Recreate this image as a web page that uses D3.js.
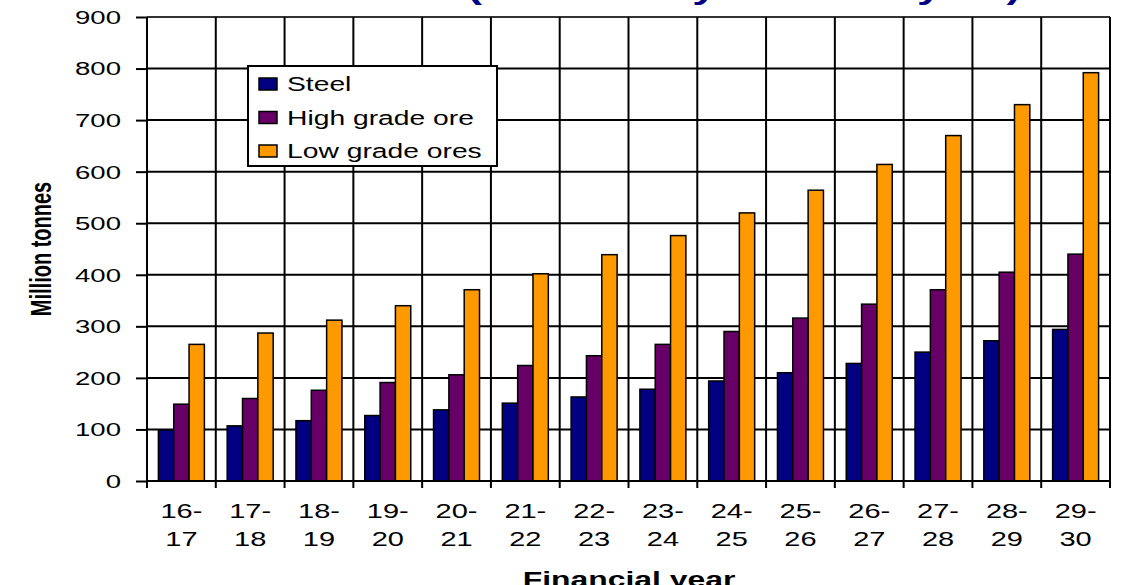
<!DOCTYPE html>
<html>
<head>
<meta charset="utf-8">
<script src="https://cdn.jsdelivr.net/npm/d3@7"></script>
<style>
  body { margin: 0; background: #fff; }
  svg { display: block; }
  text { font-family: "Liberation Sans", Arial, sans-serif; }
</style>
</head>
<body>
<div id="chart"></div>
<script>
// Chart data
var years = ["16-17", "17-18", "18-19", "19-20", "20-21", "21-22", "22-23",
             "23-24", "24-25", "25-26", "26-27", "27-28", "28-29", "29-30"]
var seriesNames = ["Steel", "High grade ore", "Low grade ores"]
var steel = [99, 107, 117, 127, 138, 151, 163, 178, 194, 210, 228, 250, 272, 294]
var highGrade = [149, 160, 176, 191, 206, 224, 243, 265, 290, 316, 343, 371, 405, 440]
var lowGrade = [265, 287, 312, 340, 371, 402, 439, 476, 520, 564, 614, 670, 730, 792]
var yTicks = [0, 100, 200, 300, 400, 500, 600, 700, 800, 900]
var colors = ["#000080", "#660066", "#ff9900"]

var svgWidth = 1123, svgHeight = 585
var margin = { top: 17, right: 13, bottom: 104, left: 147 }
var chartWidth = svgWidth - margin.left - margin.right,
    chartHeight = svgHeight - margin.top - margin.bottom
var sx = 1.45 // the picture is stretched sideways, so text is too

var svg = d3.select("#chart").append("svg")
    .attr("width", svgWidth).attr("height", svgHeight)

var chartGroup = svg.append("g").attr("transform", `translate(${margin.left}, ${margin.top})`)

var xScale = d3.scaleBand().domain(years).range([0, chartWidth])
var bw = xScale.bandwidth()
var groupW = 46
var xInner = d3.scaleBand().domain(seriesNames).range([(bw - groupW) / 2, (bw + groupW) / 2])
var yScale = d3.scaleLinear().domain([0, 900]).range([chartHeight, 0])

var rows = years.map(function(y, i) {
    return { year: y, values: [steel[i], highGrade[i], lowGrade[i]] }
})

// horizontal grid lines
chartGroup.append("g")
    .selectAll("line")
    .data(yTicks.slice(1))
    .enter()
    .append("line")
        .attr("x1", 0).attr("x2", chartWidth)
        .attr("y1", function(d) { return yScale(d) })
        .attr("y2", function(d) { return yScale(d) })
        .attr("stroke", function(d) { return d == 900 ? "#333" : "#000" })
        .attr("stroke-width", 2)

// vertical grid lines between categories
chartGroup.append("g")
    .selectAll("line")
    .data(years.slice(1).concat(["end"]))
    .enter()
    .append("line")
        .attr("x1", function(d, i) { return i < years.length - 1 ? xScale(d) : chartWidth })
        .attr("x2", function(d, i) { return i < years.length - 1 ? xScale(d) : chartWidth })
        .attr("y1", 0).attr("y2", chartHeight)
        .attr("stroke", "#000")
        .attr("stroke-width", 2)

// bars
chartGroup.append("g")
    .selectAll("g")
    .data(rows)
    .enter()
    .append("g")
        .attr("transform", function(d) { return `translate(${xScale(d.year)}, 0)` })
    .selectAll("rect")
    .data(function(d) { return d.values.map(function(v, j) { return { name: seriesNames[j], value: v, j: j } }) })
    .enter()
    .append("rect")
        .attr("x", function(d) { return xInner(d.name) })
        .attr("width", xInner.bandwidth())
        .attr("y", function(d) { return yScale(d.value) })
        .attr("height", function(d) { return chartHeight - yScale(d.value) })
        .attr("fill", function(d) { return colors[d.j] })
        .attr("stroke", "#000")
        .attr("stroke-width", 1.5)

// y axis
var yAxis = chartGroup.append("g")
    .call(d3.axisLeft(yScale).tickValues(yTicks).tickSize(11).tickFormat(""))
yAxis.select(".domain").attr("stroke-width", 2).attr("d", `M0,0V${chartHeight}`)
yAxis.selectAll(".tick line").attr("stroke-width", 2)

chartGroup.append("g")
    .selectAll("text")
    .data(yTicks)
    .enter()
    .append("text")
        .attr("transform", function(d) { return `translate(-26, ${yScale(d)}) scale(${sx}, 1)` })
        .attr("dy", "0.36em")
        .attr("text-anchor", "end")
        .attr("font-size", 19)
        .attr("fill", "#000")
        .text(function(d) { return d })

// x axis
var xAxisG = chartGroup.append("g").attr("transform", `translate(0, ${chartHeight})`)
xAxisG.append("line")
    .attr("x1", 0).attr("x2", chartWidth)
    .attr("stroke", "#000").attr("stroke-width", 2)
xAxisG.selectAll(".xt")
    .data(years.concat(["end"]))
    .enter()
    .append("line")
        .attr("class", "xt")
        .attr("x1", function(d, i) { return i < years.length ? xScale(d) : chartWidth })
        .attr("x2", function(d, i) { return i < years.length ? xScale(d) : chartWidth })
        .attr("y1", 0).attr("y2", 7)
        .attr("stroke", "#000").attr("stroke-width", 2)

var xLabels = xAxisG.selectAll(".xl")
    .data(years)
    .enter()
    .append("text")
        .attr("class", "xl")
        .attr("transform", function(d) { return `translate(${xScale(d) + bw / 2}, 37) scale(${sx}, 1)` })
        .attr("text-anchor", "middle")
        .attr("font-size", 20)
        .attr("fill", "#000")
xLabels.append("tspan").attr("x", 0).attr("y", 0).text(function(d) { return d.split("-")[0] + "-" })
xLabels.append("tspan").attr("x", 0).attr("y", 28).text(function(d) { return d.split("-")[1] })

// axis titles
svg.append("text")
    .attr("transform", `translate(629, 587) scale(${sx}, 1)`)
    .attr("text-anchor", "middle")
    .attr("font-size", 22)
    .attr("font-weight", "bold")
    .text("Financial year")

svg.append("text")
    .attr("transform", `translate(51, 249) rotate(-90) scale(1, ${sx})`)
    .attr("text-anchor", "middle")
    .attr("font-size", 20)
    .attr("font-weight", "bold")
    .text("Million tonnes")

// chart title, cut off at the top: only the descenders show
svg.append("text")
    .attr("transform", `translate(1021, -1) scale(${sx}, 1)`)
    .attr("text-anchor", "end")
    .attr("font-size", 30)
    .attr("font-weight", "bold")
    .attr("fill", "#000080")
    .text("Steel and Iron Ore (Demand by financial year)")

// legend
var legend = svg.append("g").attr("transform", "translate(248, 66)")
legend.append("rect")
    .attr("width", 249).attr("height", 100)
    .attr("fill", "#fff").attr("stroke", "#000").attr("stroke-width", 2)
var items = legend.selectAll(".item")
    .data(seriesNames)
    .enter()
    .append("g")
        .attr("class", "item")
        .attr("transform", function(d, i) { return `translate(0, ${18 + i * 33.5})` })
items.append("rect")
    .attr("x", 11).attr("y", -6)
    .attr("width", 18).attr("height", 12)
    .attr("fill", function(d, i) { return colors[i] })
    .attr("stroke", "#000").attr("stroke-width", 1.5)
items.append("text")
    .attr("transform", `translate(39, 0) scale(${sx}, 1)`)
    .attr("dy", "0.36em")
    .attr("font-size", 19.5)
    .attr("fill", "#000")
    .text(function(d) { return d })
</script>
</body>
</html>
